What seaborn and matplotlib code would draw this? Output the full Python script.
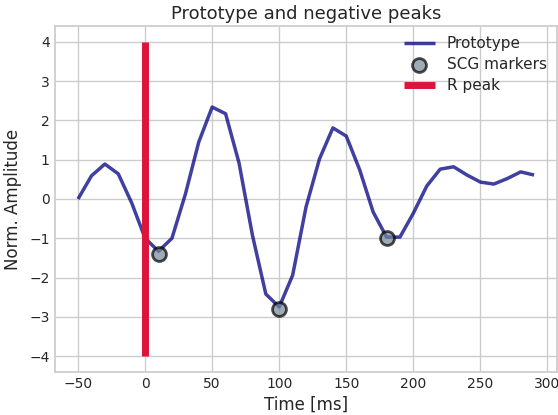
import numpy as np
import pandas as pd
import seaborn as sns
import matplotlib.pyplot as plt

# -------- data --------
time_ms = list(range(-50, 300, 10))
prototype = [0.0, 0.59, 0.89, 0.64, -0.1, -1.0, -1.33, -1.0, 0.12, 1.45,
             2.34, 2.17, 0.92, -0.92, -2.42, -2.75, -1.94, -0.2, 1.02, 1.81,
             1.6, 0.74, -0.33, -0.97, -0.97, -0.36, 0.33, 0.76, 0.82, 0.61,
             0.43, 0.38, 0.52, 0.69, 0.61]
marker_t = [10, 100, 180]
marker_y = [-1.4, -2.8, -1.0]
r_peak_t = [0, 0]
r_peak_y = [-4, 4]

df = pd.DataFrame({"t": time_ms, "amp": prototype})
mk = pd.DataFrame({"t": marker_t, "amp": marker_y})

sns.set_theme(style="whitegrid")
plt.rcParams["lines.solid_capstyle"] = "butt"
fig, ax = plt.subplots(figsize=(5.58, 4.15), dpi=100)
fig.subplots_adjust(left=0.099, right=0.998, bottom=0.104, top=0.937)

sns.lineplot(data=df, x="t", y="amp", ax=ax, color="navy", alpha=0.75,
             linewidth=2.5, label="Prototype")
sns.scatterplot(data=mk, x="t", y="amp", ax=ax, s=100, color="lightslategray",
                edgecolor="black", linewidth=2, alpha=0.7, label="SCG markers", zorder=3)
ax.plot(r_peak_t, r_peak_y, color="crimson", linewidth=5, label="R peak",
        solid_capstyle="butt")

ax.set_title("Prototype and negative peaks", fontsize=13, pad=5)
ax.set_xlabel("Time [ms]", fontsize=12, labelpad=3)
ax.set_ylabel("Norm. Amplitude", fontsize=12, labelpad=5)
ax.tick_params(labelsize=10, length=0, pad=4)
ax.legend(frameon=False, fontsize=11, loc="upper right",
          borderaxespad=0.25, labelspacing=0.4)

plt.savefig("out.png", dpi=100)
